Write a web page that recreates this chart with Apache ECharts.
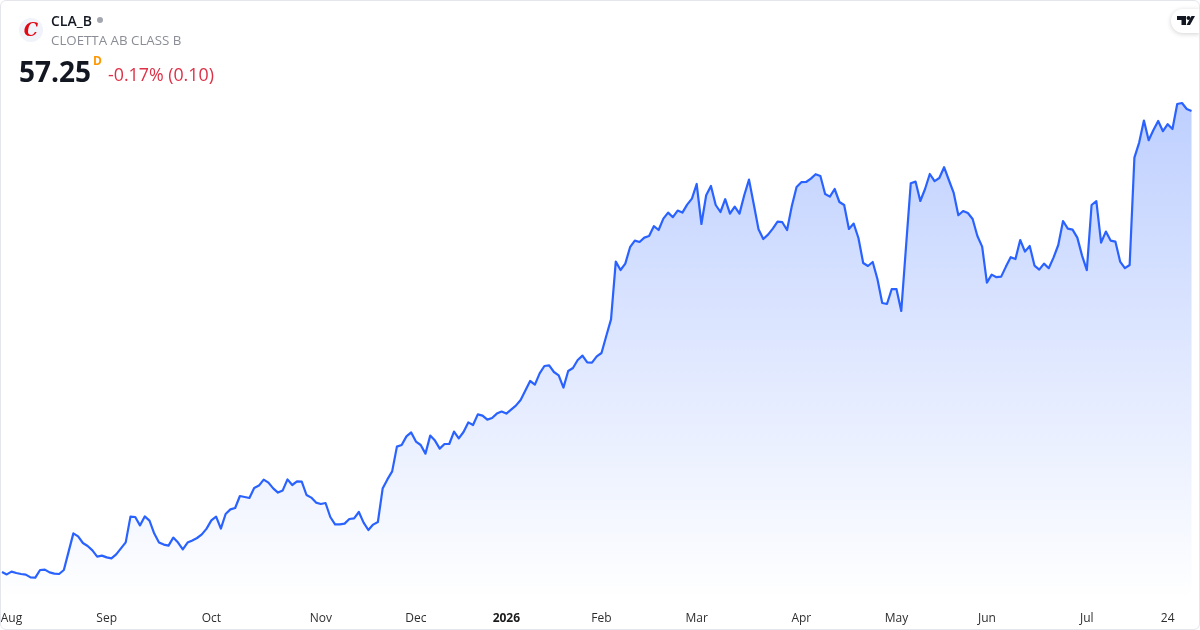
<!DOCTYPE html>
<html>
<head>
<meta charset="utf-8">
<style>
html,body{margin:0;padding:0;background:#fff;width:1200px;height:630px;overflow:hidden}
#c{position:absolute;left:0;top:0;width:1200px;height:630px}
#b{position:absolute;left:0;top:0;width:1200px;height:630px;box-sizing:border-box;border:1px solid #e4e6ec;border-radius:6px;pointer-events:none}
</style>
<script src="https://cdn.jsdelivr.net/npm/echarts@6/dist/echarts.min.js"></script>
</head>
<body>
<div id="c"></div>
<div id="b"></div>
<script>
const prices = [
34.20,34.08,34.22,34.15,34.10,34.07,33.93,33.92,34.30,34.32,
34.18,34.12,34.10,34.30,35.22,36.13,35.98,35.65,35.50,35.28,
34.97,35.02,34.93,34.88,35.08,35.38,35.68,36.97,36.95,36.53,
36.98,36.77,36.12,35.68,35.57,35.52,35.92,35.67,35.33,35.67,
35.78,35.90,36.08,36.37,36.78,36.97,36.37,37.10,37.33,37.40,
38.00,37.95,37.90,38.40,38.52,38.82,38.67,38.38,38.17,38.28,
38.83,38.55,38.73,38.72,38.05,37.92,37.67,37.60,37.65,36.95,
36.58,36.58,36.62,36.85,36.88,37.20,36.67,36.30,36.57,36.70,
38.37,38.83,39.23,40.47,40.55,40.98,41.18,40.72,40.55,40.12,
41.02,40.77,40.37,40.60,40.60,41.22,40.88,41.20,41.68,41.55,
42.08,42.02,41.82,41.90,42.12,42.22,42.12,42.32,42.52,42.80,
43.27,43.75,43.57,44.13,44.50,44.53,44.20,44.03,43.42,44.25,
44.40,44.80,45.02,44.68,44.67,44.98,45.15,46.00,46.83,49.72,
49.30,49.62,50.44,50.77,50.70,50.92,51.00,51.49,51.30,51.87,
52.17,51.94,52.27,52.17,52.57,52.87,53.60,51.60,53.04,53.50,
52.55,52.20,52.84,52.12,52.47,52.12,53.04,53.82,52.59,51.34,
50.85,51.07,51.37,51.72,51.69,51.30,52.50,53.45,53.69,53.70,
53.87,54.09,54.00,53.10,52.97,53.35,52.70,52.55,51.35,51.62,
50.90,49.65,49.50,49.70,48.84,47.65,47.60,48.35,48.34,47.25,
50.47,53.64,53.72,52.75,53.35,54.10,53.74,53.90,54.44,53.80,
53.17,52.04,52.25,52.15,51.85,51.00,50.47,48.67,49.07,48.94,
48.97,49.47,49.94,49.85,50.80,50.22,50.50,49.52,49.32,49.62,
49.39,49.92,50.55,51.75,51.37,51.32,50.92,50.02,49.29,52.55,
52.74,50.67,51.22,50.77,50.72,49.72,49.39,49.55,54.92,55.67,
56.77,55.79,56.30,56.75,56.24,56.59,56.35,57.60,57.65,57.35,
57.25
];
const tickIndex = [2,22,44,67,87,106,126,146,168,188,207,228,245];
const tickLabels = ["Aug","Sep","Oct","Nov","Dec","2026","Feb","Mar","Apr","May","Jun","Jul","24"];
const categories = prices.map((_, i) => {
  const k = tickIndex.indexOf(i);
  return k >= 0 ? tickLabels[k] : "";
});
const FONT = '"Open Sans","Noto Sans",sans-serif';
const chart = echarts.init(document.getElementById('c'), null, {renderer:'canvas'});
chart.setOption({
  animation:false,
  backgroundColor:'#ffffff',
  grid:{left:2,right:8.5,top:0,height:600,containLabel:false,outerBoundsMode:'none'},
  xAxis:{
    type:'category',boundaryGap:false,data:categories,
    axisLine:{show:false},axisTick:{show:false},splitLine:{show:false},
    axisLabel:{
      interval:(i)=>tickIndex.indexOf(i)>=0,
      margin:13,fontFamily:FONT,fontSize:12,color:'#2e2e2e',
      hideOverlap:false,
      formatter:(v)=>v==='2026'?'{b|2026}':v,
      rich:{b:{fontFamily:FONT,fontSize:12,fontWeight:700,color:'#1a1a1a'}}
    }
  },
  yAxis:{type:'value',min:32.8,max:62.8,show:false,splitLine:{show:false}},
  series:[{
    type:'line',data:prices,showSymbol:false,symbol:'none',smooth:false,
    lineStyle:{color:'#2962ff',width:2.2,join:'round'},
    areaStyle:{opacity:1,color:new echarts.graphic.LinearGradient(0,0,0,1,[
      {offset:0,color:'rgba(41,98,255,0.30)'},
      {offset:0.5,color:'rgba(41,98,255,0.15)'},
      {offset:1,color:'rgba(41,98,255,0)'}
    ])}
  }],
  graphic:[
    {type:'circle',shape:{cx:31,cy:30,r:12},style:{fill:'#f0f3fa'}},
    {type:'text',style:{x:31,y:31,text:'C',fill:'#e30613',font:'italic bold 18px "DejaVu Serif",serif',align:'center',verticalAlign:'middle'}},
    {type:'text',style:{x:51,y:22,text:'CLA_B',fill:'#131722',font:'600 14px '+FONT,verticalAlign:'middle'}},
    {type:'circle',shape:{cx:100,cy:20,r:3},style:{fill:'#a3a6af'}},
    {type:'text',style:{x:51,y:41,text:'CLOETTA AB CLASS B',fill:'#8a8d96',font:'13.3px '+FONT,verticalAlign:'middle'}},
    {type:'text',style:{x:19,y:74,text:'57.25',fill:'#131722',font:'700 28px '+FONT,verticalAlign:'middle'}},
    {type:'text',style:{x:93,y:62,text:'D',fill:'#ff9800',font:'700 12px '+FONT,verticalAlign:'middle'}},
    {type:'text',style:{x:108,y:76,text:'-0.17% (0.10)',fill:'#dd3148',font:'17.8px '+FONT,verticalAlign:'middle'}},
    {type:'rect',shape:{x:1171,y:9,width:29,height:24,r:[12,0,0,12]},style:{fill:'#fff',shadowBlur:5,shadowColor:'rgba(0,0,0,0.18)',shadowOffsetY:1}},
    {type:'polygon',shape:{points:[[1177,16],[1186,16],[1186,25],[1181.5,25],[1181.5,20],[1177,20]]},style:{fill:'#131722'}},
    {type:'circle',shape:{cx:1188.5,cy:18,r:2},style:{fill:'#131722'}},
    {type:'polygon',shape:{points:[[1191.5,16],[1195,16],[1190,25],[1186.5,25]]},style:{fill:'#131722'}}
  ]
});
</script>
</body>
</html>
